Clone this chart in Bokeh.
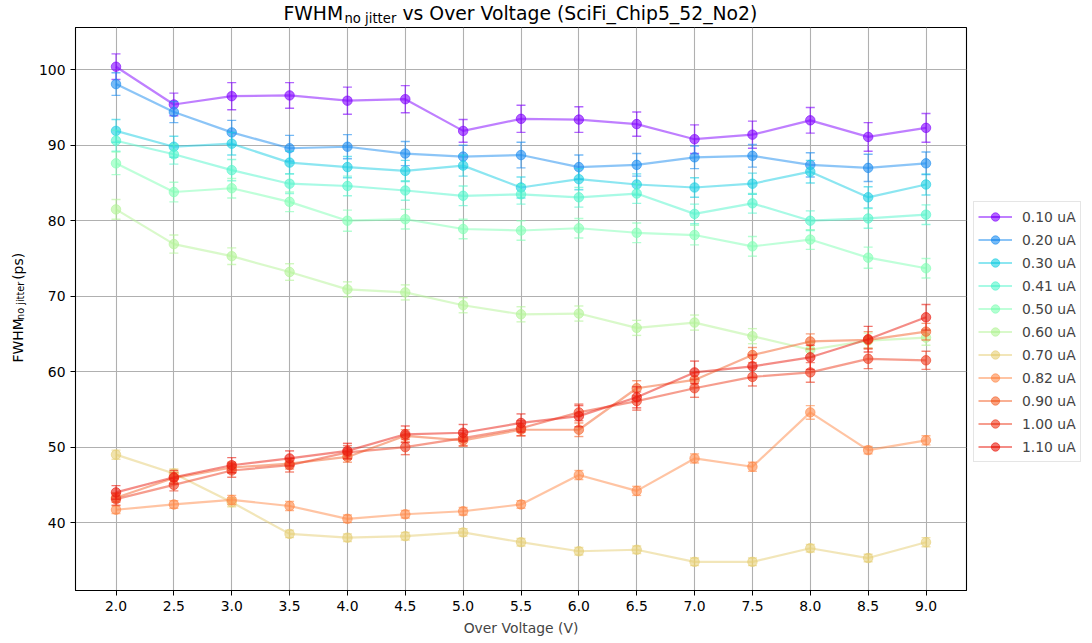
import math
from bokeh.plotting import figure
from bokeh.layouts import column, row
from bokeh.models import (ColumnDataSource, FixedTicker, Legend, LegendItem, Label,
                          NumeralTickFormatter, Range1d)
from bokeh.embed import file_html
from bokeh.resources import INLINE

# Over voltage scan points (V)
over_voltage = [2.0, 2.5, 3.0, 3.5, 4.0, 4.5, 5.0, 5.5, 6.0, 6.5, 7.0, 7.5, 8.0, 8.5, 9.0]

# Bias current labels
current_labels = ["0.10 uA", "0.20 uA", "0.30 uA", "0.41 uA", "0.50 uA", "0.60 uA",
                  "0.70 uA", "0.82 uA", "0.90 uA", "1.00 uA", "1.10 uA"]

# FWHM without jitter (ps) and its uncertainty, one list per bias current
fwhm_010 = [100.4, 95.4, 96.5, 96.6, 95.9, 96.1, 91.9, 93.5, 93.4, 92.8, 90.8, 91.4, 93.3, 91.1, 92.3]
err_010 = [1.7, 1.5, 1.8, 1.7, 1.8, 1.8, 1.5, 1.8, 1.7, 1.6, 1.9, 1.8, 1.7, 1.9, 1.9]
fwhm_020 = [98.1, 94.4, 91.7, 89.6, 89.8, 88.9, 88.5, 88.7, 87.1, 87.4, 88.4, 88.6, 87.4, 87.0, 87.6]
err_020 = [1.5, 1.4, 1.6, 1.7, 1.6, 1.6, 1.5, 1.7, 1.6, 1.5, 1.5, 1.5, 1.6, 1.8, 1.5]
fwhm_030 = [91.9, 89.8, 90.2, 87.7, 87.1, 86.6, 87.3, 84.4, 85.5, 84.8, 84.4, 84.9, 86.5, 83.1, 84.8]
err_030 = [1.5, 1.4, 1.5, 1.5, 1.4, 1.4, 1.4, 1.4, 1.4, 1.4, 1.3, 1.4, 1.5, 1.4, 1.4]
fwhm_041 = [90.6, 88.8, 86.7, 84.9, 84.6, 84.0, 83.3, 83.5, 83.1, 83.6, 80.9, 82.3, 80.0, 80.3, 80.8]
err_041 = [1.4, 1.3, 1.4, 1.3, 1.3, 1.3, 1.3, 1.3, 1.3, 1.3, 1.3, 1.3, 1.3, 1.3, 1.3]
fwhm_050 = [87.6, 83.8, 84.3, 82.5, 80.0, 80.2, 78.9, 78.7, 79.0, 78.4, 78.1, 76.6, 77.5, 75.1, 73.7]
err_050 = [1.5, 1.3, 1.3, 1.3, 1.4, 1.3, 1.3, 1.3, 1.3, 1.3, 1.3, 1.3, 1.3, 1.4, 1.3]
fwhm_060 = [81.5, 76.9, 75.3, 73.2, 70.9, 70.5, 68.8, 67.6, 67.7, 65.8, 66.5, 64.7, 62.9, 64.1, 64.5]
err_060 = [1.3, 1.2, 1.1, 1.1, 1.0, 1.0, 1.0, 1.0, 1.0, 1.0, 1.0, 1.0, 1.0, 1.0, 1.0]
fwhm_070 = [49.0, 46.5, 42.7, 38.5, 38.0, 38.2, 38.7, 37.4, 36.2, 36.4, 34.8, 34.8, 36.6, 35.3, 37.4]
err_070 = [0.6, 0.6, 0.6, 0.5, 0.5, 0.5, 0.5, 0.5, 0.5, 0.5, 0.5, 0.5, 0.5, 0.5, 0.6]
fwhm_082 = [41.7, 42.4, 43.0, 42.2, 40.5, 41.1, 41.5, 42.4, 46.3, 44.2, 48.5, 47.4, 54.6, 49.6, 50.9]
err_082 = [0.5, 0.5, 0.6, 0.6, 0.5, 0.5, 0.5, 0.5, 0.6, 0.6, 0.6, 0.6, 0.9, 0.5, 0.6]
fwhm_090 = [43.3, 45.9, 47.3, 47.8, 48.7, 51.5, 50.9, 52.3, 52.3, 57.8, 58.9, 62.2, 64.0, 64.2, 65.3]
err_090 = [0.6, 0.7, 0.7, 0.7, 0.7, 0.8, 0.8, 0.8, 0.9, 1.0, 1.0, 1.0, 1.0, 1.1, 1.1]
fwhm_100 = [43.1, 45.0, 46.9, 47.6, 49.3, 50.0, 51.2, 52.5, 54.6, 56.1, 57.8, 59.3, 59.9, 61.7, 61.5]
err_100 = [0.8, 0.8, 0.9, 0.9, 0.9, 1.0, 1.0, 1.0, 1.1, 1.2, 1.2, 1.2, 1.3, 1.3, 1.2]
fwhm_110 = [44.0, 46.0, 47.6, 48.5, 49.5, 51.7, 51.9, 53.2, 54.1, 56.6, 59.9, 60.7, 61.9, 64.3, 67.2]
err_110 = [0.9, 0.9, 1.0, 1.0, 1.0, 1.1, 1.1, 1.2, 1.4, 1.4, 1.5, 1.5, 1.6, 1.7, 1.7]

fwhm_series = [fwhm_010, fwhm_020, fwhm_030, fwhm_041, fwhm_050, fwhm_060,
               fwhm_070, fwhm_082, fwhm_090, fwhm_100, fwhm_110]
err_series = [err_010, err_020, err_030, err_041, err_050, err_060,
              err_070, err_082, err_090, err_100, err_110]

# rainbow-style palette, one colour per current
colors = ["#8000ff", "#1a8cf0", "#1acee3", "#52f5cc", "#80ffb4", "#b3f396",
          "#e6ce74", "#ff8947", "#f3622a", "#ee3b1e", "#e9190e"]

x_ticks = [2.0, 2.5, 3.0, 3.5, 4.0, 4.5, 5.0, 5.5, 6.0, 6.5, 7.0, 7.5, 8.0, 8.5, 9.0]
y_ticks = [40, 50, 60, 70, 80, 90, 100]

FONT = "DejaVu Sans"

# overall canvas 1092x643: title strip on top, y-label strip on the left,
# main plot, legend strip on the right
W, H = 1092, 643
TITLE_H = 26
YLAB_W = 30
LEG_W = 124
BODY_H = H - TITLE_H
MAIN_W = W - YLAB_W - LEG_W


def strip(w, h):
    """A bare figure whose data units equal pixels (y grows downwards)."""
    f = figure(width=w, height=h, output_backend="svg", toolbar_location=None,
               title=None, x_range=Range1d(0, w), y_range=Range1d(h, 0),
               x_axis_location=None, y_axis_location=None,
               min_border_left=0, min_border_right=0, min_border_top=0,
               min_border_bottom=0)
    f.grid.visible = False
    f.outline_line_color = None
    f.background_fill_color = "white"
    f.border_fill_color = "white"
    return f


def put(f, text, x, y, size, angle=0.0, baseline="middle"):
    f.add_layout(Label(x=x, y=y, text=text, text_font=FONT, text_font_size=size,
                       text_color="black", angle=angle, text_align="left",
                       text_baseline=baseline))


# ---- main plot -------------------------------------------------------------
p = figure(width=MAIN_W, height=BODY_H, output_backend="svg", toolbar_location=None,
           title=None, x_range=Range1d(1.65, 9.35), y_range=Range1d(31.0, 105.6),
           min_border_left=75 - YLAB_W, min_border_right=2, min_border_top=1,
           min_border_bottom=53)
p.background_fill_color = "white"
p.border_fill_color = "white"
p.outline_line_color = "black"
p.outline_line_width = 1.1

for ax in (p.xaxis[0], p.yaxis[0]):
    ax.axis_line_color = "black"
    ax.major_tick_line_color = "black"
    ax.major_tick_out = 5
    ax.major_tick_in = 0
    ax.minor_tick_line_color = None
    ax.major_label_text_font = FONT
    ax.major_label_text_font_size = "13.9px"
    ax.major_label_text_color = "black"
    ax.major_label_standoff = 5

p.xaxis.ticker = FixedTicker(ticks=x_ticks)
p.xaxis.formatter = NumeralTickFormatter(format="0.0")
p.yaxis.ticker = FixedTicker(ticks=y_ticks)
p.xaxis.axis_label = "Over Voltage (V)"
p.xaxis.axis_label_text_font = FONT
p.xaxis.axis_label_text_font_size = "13.9px"
p.xaxis.axis_label_text_font_style = "normal"
p.xaxis.axis_label_standoff = 6

p.xgrid.grid_line_color = "#b0b0b0"
p.ygrid.grid_line_color = "#b0b0b0"
p.xgrid.grid_line_width = 1.1
p.ygrid.grid_line_width = 1.1

# legend strip holds off-screen proxy renderers that only carry the styling
leg = strip(LEG_W, BODY_H)
items = []
for label, ys, es, c in zip(current_labels, fwhm_series, err_series, colors):
    src = ColumnDataSource(dict(
        x=over_voltage, y=ys,
        upper=[v + e for v, e in zip(ys, es)],
        lower=[v - e for v, e in zip(ys, es)],
    ))
    p.line("x", "y", source=src, line_color=c, line_width=2.2, line_alpha=0.5)
    p.segment(x0="x", y0="lower", x1="x", y1="upper", source=src,
              line_color=c, line_width=1.4, line_alpha=0.6)
    p.scatter("x", "upper", source=src, marker="dash", size=9,
              line_color=c, line_width=1.4, line_alpha=0.6)
    p.scatter("x", "lower", source=src, marker="dash", size=9,
              line_color=c, line_width=1.4, line_alpha=0.6)
    p.scatter("x", "y", source=src, marker="circle", size=9.5,
              fill_color=c, line_color=c, fill_alpha=0.6, line_alpha=0.6)

    proxy = ColumnDataSource(dict(x=[-1000.0], y=[-1000.0]))
    l_ln = leg.line("x", "y", source=proxy, line_color=c, line_width=2.2, line_alpha=0.5)
    l_bar = leg.scatter("x", "y", source=proxy, marker="dash", angle=math.pi / 2,
                        line_color=c, line_width=1.4, line_alpha=0.6)
    l_mk = leg.scatter("x", "y", source=proxy, marker="circle",
                       fill_color=c, line_color=c, fill_alpha=0.6, line_alpha=0.6)
    items.append(LegendItem(label=label, renderers=[l_ln, l_bar, l_mk]))

legend = Legend(items=items, location=(5, 128), margin=0,
                label_text_font=FONT, label_text_font_size="13.9px",
                glyph_width=34, glyph_height=21, label_height=21,
                label_standoff=10, spacing=2, padding=4,
                border_line_color="#cccccc", border_line_width=1,
                background_fill_alpha=1.0)
leg.add_layout(legend, "center")

# ---- title strip (with subscript) -------------------------------------------
title = strip(W, TITLE_H)
put(title, "FWHM", 283, 12.8, "18.8px")
put(title, "no jitter", 344, 18.1, "13.2px")
put(title, "vs Over Voltage (SciFi_Chip5_52_No2)", 402, 12.8, "18.8px")

# ---- rotated y-axis label (with subscript) ----------------------------------
ylab = strip(YLAB_W, BODY_H)
a = math.pi / 2
put(ylab, "FWHM", 17, 393 - TITLE_H, "13.9px", angle=a, baseline="alphabetic")
put(ylab, "no jitter", 20, 346.5 - TITLE_H, "9.7px", angle=a, baseline="alphabetic")
put(ylab, "(ps)", 17, 302.5 - TITLE_H, "13.9px", angle=a, baseline="alphabetic")

layout = column(title, row(ylab, p, leg))
open("out.html", "w").write(file_html(layout, INLINE))
